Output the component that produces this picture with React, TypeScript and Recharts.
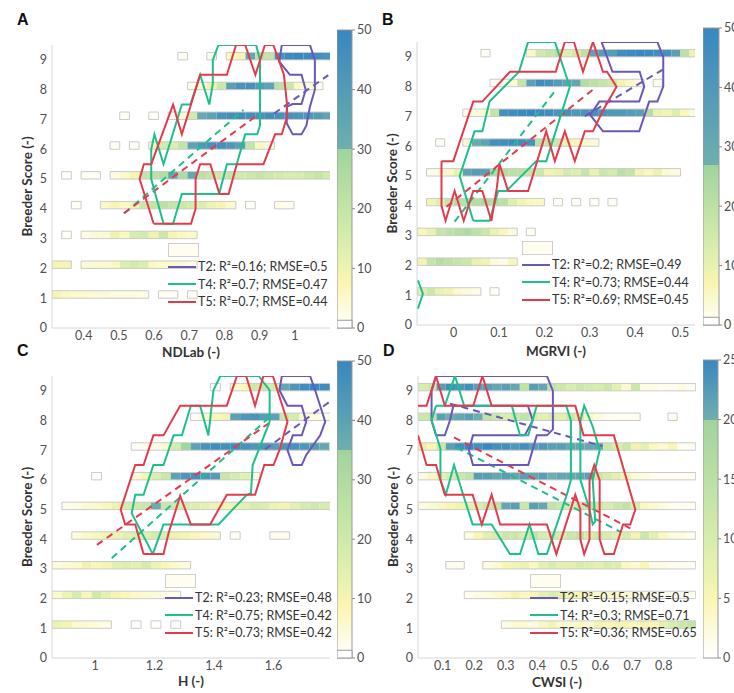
import React from "react";
import {
  ComposedChart,
  XAxis,
  YAxis,
  Scatter,
  ReferenceArea,
  ReferenceLine,
  Legend,
} from "recharts";

const FONT = "Lato, 'Liberation Sans', sans-serif";

type Treat = "T2" | "T4" | "T5";
type Pt = [number, number];

const TREATS: Treat[] = ["T2", "T4", "T5"];
const TREAT_COLORS: Record<Treat, string> = {
  T2: "#6a58b8",
  T4: "#1fbf8c",
  T5: "#e23c4c",
};

const Y_TICKS = [0, 1, 2, 3, 4, 5, 6, 7, 8, 9];
const CELL_H = 0.25;

// ---- panel A: NDLab ----
const A_X_TICKS = [0.4, 0.5, 0.6, 0.7, 0.8, 0.9, 1];
const A_BIN_START = 0.31;
const A_BIN_W = 0.0275;
// rows are scores 1..9, columns are NDLab bins
const A_COUNTS = [
  [8, 6, 5, 5, 4, 4, 3, 3, 3, 2, 0, 1, 1, 0, 1, 0, 0, 0, 0, 0, 0, 0, 0, 0, 0, 0, 0, 0, 0],
  [8, 8, 0, 4, 5, 5, 6, 14, 16, 14, 6, 5, 5, 4, 3, 0, 0, 0, 0, 0, 0, 0, 0, 0, 0, 0, 0, 0, 0],
  [0, 1, 0, 3, 4, 4, 10, 6, 15, 16, 10, 18, 8, 6, 5, 0, 0, 0, 0, 0, 0, 0, 0, 0, 0, 0, 0, 0, 0],
  [0, 0, 1, 0, 0, 6, 8, 6, 10, 18, 20, 22, 20, 18, 16, 14, 10, 8, 5, 0, 1, 0, 0, 2, 2, 0, 0, 0, 0],
  [0, 1, 0, 1, 1, 0, 3, 5, 8, 20, 22, 25, 34, 26, 34, 22, 20, 18, 20, 16, 18, 20, 18, 16, 15, 15, 18, 20, 16],
  [0, 0, 0, 0, 0, 0, 1, 0, 1, 0, 6, 16, 14, 20, 36, 42, 44, 45, 42, 38, 20, 6, 3, 0, 0, 0, 0, 0, 0],
  [0, 0, 0, 0, 0, 0, 0, 1, 0, 0, 1, 0, 1, 4, 16, 33, 36, 44, 46, 47, 45, 44, 46, 45, 44, 43, 42, 40, 36],
  [0, 0, 0, 0, 0, 0, 0, 0, 0, 0, 0, 0, 0, 0, 2, 5, 10, 18, 38, 44, 45, 40, 36, 22, 18, 6, 4, 2, 0],
  [0, 0, 0, 0, 0, 0, 0, 0, 0, 0, 0, 0, 0, 1, 0, 0, 1, 0, 6, 8, 34, 22, 20, 44, 48, 50, 48, 46, 44],
];
const A_T2: Pt[] = [
  [0.963, 9.5], [1.043, 9.5], [1.057, 9.0], [1.057, 8.0], [1.043, 7.43], [1.033, 6.8],
  [1.019, 6.5], [0.994, 6.5], [0.977, 6.87], [0.977, 7.43], [0.994, 7.52], [1.019, 7.52],
  [1.031, 8.0], [1.019, 8.5], [0.986, 8.5], [0.956, 8.94], [0.963, 9.5],
];
const A_T4: Pt[] = [
  [0.627, 3.5], [0.592, 5.0], [0.592, 6.0], [0.601, 6.5], [0.627, 5.5], [0.679, 7.5],
  [0.703, 7.5], [0.731, 8.5], [0.757, 7.5], [0.767, 8.2], [0.767, 9.0], [0.783, 9.5],
  [0.89, 9.5], [0.901, 9.0], [0.901, 6.8], [0.893, 6.5], [0.859, 6.5], [0.835, 5.5],
  [0.807, 5.5], [0.785, 4.5], [0.679, 4.5], [0.654, 3.5], [0.627, 3.5],
];
const A_T5: Pt[] = [
  [0.599, 3.5], [0.559, 5.0], [0.571, 5.5], [0.592, 5.5], [0.654, 7.5], [0.679, 6.5],
  [0.731, 8.5], [0.807, 8.5], [0.833, 9.5], [0.859, 9.5], [0.888, 8.5], [0.915, 9.5],
  [0.939, 9.5], [0.969, 8.5], [0.978, 7.5], [0.978, 7.1], [0.963, 6.5], [0.944, 6.5],
  [0.911, 5.5], [0.835, 5.5], [0.812, 4.5], [0.786, 4.5], [0.76, 5.5], [0.731, 5.5],
  [0.718, 5.0], [0.718, 4.0], [0.705, 3.5], [0.599, 3.5],
];
const A_FITS: Record<Treat, Pt[]> = {
  T2: [[0.941, 7.2], [1.095, 8.49]],
  T4: [[0.516, 3.85], [0.854, 7.32]],
  T5: [[0.514, 3.85], [0.9, 7.2]],
};
const A_LEGEND = ["T2: R²=0.16; RMSE=0.5", "T4: R²=0.7; RMSE=0.47", "T5: R²=0.7; RMSE=0.44"];

// ---- panel B: MGRVI ----
const B_X_TICKS = [0, 0.1, 0.2, 0.3, 0.4, 0.5];
const B_BIN_START = -0.08;
const B_BIN_W = 0.02;
const B_COUNTS = [
  [12, 16, 10, 8, 4, 3, 2, 0, 1, 0, 0, 0, 0, 0, 0, 0, 0, 0, 0, 0, 0, 0, 0, 0, 0, 0, 0, 0, 0, 0, 0],
  [8, 18, 22, 20, 18, 16, 10, 8, 3, 2, 6, 0, 0, 0, 0, 0, 0, 0, 0, 0, 0, 0, 0, 0, 0, 0, 0, 0, 0, 0, 0],
  [6, 10, 18, 20, 22, 24, 20, 16, 10, 6, 3, 0, 1, 0, 0, 0, 0, 0, 0, 0, 0, 0, 0, 0, 0, 0, 0, 0, 0, 0, 0],
  [0, 8, 12, 18, 22, 20, 22, 24, 22, 20, 12, 8, 6, 5, 0, 1, 0, 1, 0, 1, 0, 1, 0, 0, 0, 0, 0, 0, 0, 0, 0],
  [0, 2, 3, 5, 10, 34, 38, 36, 24, 22, 20, 20, 18, 16, 8, 10, 14, 12, 18, 10, 16, 14, 20, 18, 8, 6, 10, 4, 3, 0, 0],
  [0, 0, 1, 0, 0, 4, 30, 34, 44, 46, 48, 46, 44, 20, 18, 16, 10, 6, 4, 3, 0, 0, 0, 0, 0, 0, 0, 0, 0, 0, 0],
  [0, 0, 0, 0, 0, 2, 3, 4, 18, 44, 46, 48, 50, 48, 46, 42, 44, 40, 42, 44, 42, 40, 40, 38, 36, 22, 10, 8, 12, 6, 3],
  [0, 0, 0, 0, 0, 0, 0, 0, 1, 2, 4, 18, 35, 46, 45, 38, 34, 32, 22, 20, 18, 15, 8, 5, 3, 0, 1, 0, 0, 0, 0],
  [0, 0, 0, 0, 0, 0, 0, 1, 0, 0, 0, 0, 5, 15, 18, 20, 12, 15, 20, 34, 38, 38, 46, 48, 50, 48, 46, 44, 36, 20, 10],
];
const B_T2: Pt[] = [
  [0.326, 9.5], [0.449, 9.5], [0.462, 9.0], [0.462, 8.0], [0.449, 7.5], [0.431, 7.5],
  [0.409, 6.5], [0.329, 6.5], [0.301, 7.05], [0.321, 7.5], [0.409, 7.5], [0.42, 8.0],
  [0.41, 8.5], [0.35, 8.5], [0.326, 9.5],
];
const B_T4: Pt[] = [
  [0.043, 3.5], [0.079, 3.5], [0.098, 4.5], [0.116, 4.5], [0.182, 5.5], [0.204, 5.5],
  [0.256, 8.0], [0.223, 9.5], [0.164, 9.5], [0.144, 8.5], [0.079, 7.5], [0.063, 6.5],
  [0.046, 6.5], [0.013, 5.0], [0.043, 3.5],
];
const B_T4_EDGE: Pt[] = [[-0.079, 1.5], [-0.068, 1.05], [-0.079, 0.55]];
const B_T5: Pt[] = [
  [-0.027, 5.5], [-0.001, 5.5], [0.043, 7.5], [0.063, 7.5], [0.124, 8.5], [0.225, 8.5],
  [0.245, 9.5], [0.265, 9.5], [0.285, 8.5], [0.307, 9.5], [0.329, 8.5], [0.338, 8.5],
  [0.359, 8.0], [0.329, 7.2], [0.307, 6.5], [0.289, 6.5], [0.267, 5.5], [0.245, 6.5],
  [0.223, 5.5], [0.204, 6.5], [0.164, 4.5], [0.12, 4.5], [0.101, 5.4], [0.095, 4.6],
  [0.083, 3.5], [0.063, 4.5], [0.043, 4.5], [0.022, 3.5], [0.002, 4.5], [-0.018, 3.5],
  [-0.027, 4.0], [-0.027, 5.5],
];
const B_FITS: Record<Treat, Pt[]> = {
  T2: [[0.289, 7.01], [0.465, 8.61]],
  T4: [[0.002, 3.47], [0.226, 7.91]],
  T5: [[-0.016, 3.97], [0.315, 8.0]],
};
const B_LEGEND = ["T2: R²=0.2; RMSE=0.49", "T4: R²=0.73; RMSE=0.44", "T5: R²=0.69; RMSE=0.45"];

// ---- panel C: H ----
const C_X_TICKS = [1, 1.2, 1.4, 1.6];
const C_BIN_START = 0.855;
const C_BIN_W = 0.0333;
const C_COUNTS = [
  [12, 10, 6, 5, 4, 3, 0, 0, 1, 0, 1, 0, 1, 0, 0, 0, 0, 0, 0, 0, 0, 0, 0, 0, 0, 0, 0, 0, 0],
  [6, 12, 18, 8, 20, 14, 10, 8, 6, 5, 4, 3, 3, 0, 0, 0, 0, 0, 0, 0, 0, 0, 0, 0, 0, 0, 0, 0, 0],
  [4, 5, 6, 12, 8, 10, 15, 16, 14, 18, 12, 8, 6, 4, 0, 0, 0, 0, 0, 0, 0, 0, 0, 0, 0, 0, 0, 0, 0],
  [0, 0, 4, 6, 8, 10, 12, 14, 16, 15, 18, 16, 12, 10, 8, 6, 5, 0, 1, 0, 0, 0, 2, 2, 0, 0, 0, 0, 0],
  [0, 2, 3, 5, 6, 8, 12, 18, 20, 22, 36, 22, 20, 18, 16, 14, 12, 10, 12, 14, 18, 16, 12, 10, 14, 18, 20, 18, 16],
  [0, 0, 0, 0, 1, 0, 0, 0, 5, 10, 16, 22, 40, 44, 46, 44, 42, 22, 18, 14, 3, 0, 0, 0, 0, 0, 0, 0, 0],
  [0, 0, 0, 0, 0, 0, 0, 0, 1, 2, 3, 5, 18, 34, 40, 46, 48, 47, 48, 46, 44, 44, 42, 45, 46, 44, 42, 38, 20],
  [0, 0, 0, 0, 0, 0, 0, 0, 0, 0, 0, 0, 0, 0, 1, 6, 8, 10, 40, 44, 45, 42, 40, 22, 18, 6, 4, 3, 2],
  [0, 0, 0, 0, 0, 0, 0, 0, 0, 0, 0, 0, 0, 0, 0, 0, 1, 0, 6, 8, 20, 22, 18, 38, 44, 48, 50, 48, 46],
];
const C_T2: Pt[] = [
  [1.628, 9.5], [1.723, 9.5], [1.74, 9.02], [1.774, 7.96], [1.757, 7.5], [1.71, 6.84],
  [1.695, 6.5], [1.665, 6.5], [1.647, 7.0], [1.665, 7.5], [1.695, 7.5], [1.71, 7.96],
  [1.695, 8.5], [1.647, 8.5], [1.62, 9.02], [1.628, 9.5],
];
const C_T4: Pt[] = [
  [1.194, 3.5], [1.123, 4.88], [1.135, 5.5], [1.163, 5.5], [1.196, 6.5], [1.23, 6.5],
  [1.264, 7.5], [1.292, 7.5], [1.322, 8.5], [1.353, 8.5], [1.381, 7.5], [1.398, 9.02],
  [1.421, 9.5], [1.55, 9.5], [1.587, 9.02], [1.587, 7.96], [1.53, 6.5], [1.524, 5.55],
  [1.51, 5.5], [1.415, 4.5], [1.23, 4.5], [1.194, 3.5],
];
const C_T5: Pt[] = [
  [1.163, 3.5], [1.135, 4.5], [1.101, 4.5], [1.086, 5.0], [1.135, 6.5], [1.163, 6.5],
  [1.196, 7.5], [1.23, 7.5], [1.286, 8.5], [1.443, 8.5], [1.477, 9.5], [1.508, 9.5],
  [1.538, 8.5], [1.566, 9.5], [1.598, 9.5], [1.62, 8.8], [1.647, 7.96], [1.62, 7.0],
  [1.6, 6.5], [1.569, 6.5], [1.538, 5.5], [1.443, 5.5], [1.387, 4.5], [1.322, 4.5],
  [1.286, 5.46], [1.247, 4.2], [1.23, 3.5], [1.163, 3.5],
];
const C_FITS: Record<Treat, Pt[]> = {
  T2: [[1.572, 7.03], [1.788, 8.63]],
  T4: [[1.056, 3.36], [1.58, 8.05]],
  T5: [[1.006, 3.81], [1.587, 7.93]],
};
const C_LEGEND = ["T2: R²=0.23; RMSE=0.48", "T4: R²=0.75; RMSE=0.42", "T5: R²=0.73; RMSE=0.42"];

// ---- panel D: CWSI ----
const D_X_TICKS = [0.1, 0.2, 0.3, 0.4, 0.5, 0.6, 0.7, 0.8];
const D_BIN_START = 0.022;
const D_BIN_W = 0.0293;
const D_COUNTS = [
  [0, 0, 0, 0, 0, 0, 0, 0, 0, 2, 3, 3, 2, 4, 6, 3, 3, 4, 3, 6, 5, 6, 5, 4, 6, 5, 8, 10, 12, 14],
  [0, 0, 0, 0, 0, 1, 2, 2, 3, 4, 6, 4, 5, 8, 10, 8, 6, 5, 4, 3, 3, 4, 3, 2, 2, 1, 1, 1, 1, 1],
  [0, 0, 0, 1, 1, 0, 0, 2, 3, 5, 6, 7, 4, 8, 10, 8, 8, 10, 9, 8, 10, 9, 4, 3, 5, 2, 2, 1, 1, 1],
  [0, 0, 0, 0, 0, 2, 5, 8, 10, 12, 12, 10, 14, 10, 12, 10, 12, 14, 10, 12, 10, 8, 10, 6, 12, 8, 4, 2, 2, 1],
  [2, 3, 4, 5, 6, 8, 10, 12, 14, 21, 22, 12, 22, 21, 14, 12, 10, 12, 14, 12, 10, 12, 14, 10, 4, 3, 2, 1, 1, 1],
  [2, 4, 8, 10, 12, 14, 22, 22, 21, 22, 21, 22, 21, 22, 20, 21, 21, 21, 22, 12, 10, 8, 5, 3, 2, 1, 1, 1, 1, 1],
  [8, 5, 12, 22, 24, 25, 24, 25, 24, 24, 23, 24, 22, 23, 22, 22, 21, 21, 21, 21, 12, 10, 12, 6, 8, 4, 3, 5, 1, 1],
  [12, 14, 22, 20, 21, 22, 20, 14, 12, 10, 12, 14, 10, 8, 10, 8, 12, 10, 4, 2, 1, 1, 1, 1, 0, 0, 0, 1, 0, 0],
  [10, 12, 22, 24, 23, 24, 22, 22, 21, 22, 21, 14, 22, 21, 14, 12, 10, 12, 11, 10, 12, 8, 3, 12, 2, 2, 1, 1, 2, 1],
];
const D_T2: Pt[] = [
  [0.079, 9.5], [0.43, 9.5], [0.449, 9.0], [0.449, 7.7], [0.43, 7.5], [0.398, 7.5],
  [0.371, 6.5], [0.196, 6.5], [0.183, 7.0], [0.196, 7.5], [0.36, 7.5], [0.385, 8.0],
  [0.37, 8.5], [0.134, 8.5], [0.123, 8.0], [0.107, 7.5], [0.079, 7.5], [0.065, 8.0],
  [0.065, 9.0], [0.079, 9.5],
];
const D_T4: Pt[] = [
  [0.079, 8.5], [0.107, 8.5], [0.139, 9.5], [0.168, 8.5], [0.319, 8.5], [0.345, 7.5],
  [0.371, 7.5], [0.398, 8.5], [0.491, 8.5], [0.506, 8.0], [0.506, 6.0], [0.493, 5.5],
  [0.43, 3.5], [0.403, 3.5], [0.375, 4.5], [0.345, 3.5], [0.313, 3.5], [0.255, 4.5],
  [0.195, 4.5], [0.165, 5.5], [0.136, 6.5], [0.11, 5.5], [0.093, 6.0], [0.093, 7.05],
  [0.065, 8.0], [0.079, 8.5],
];
const D_T4_SPIKE: Pt[] = [
  [0.536, 8.0], [0.548, 8.5], [0.575, 7.8], [0.597, 7.0], [0.575, 6.0], [0.583, 4.6],
  [0.575, 4.5], [0.565, 5.0], [0.536, 6.0], [0.536, 8.0],
];
const D_T5: Pt[] = [
  [0.022, 8.5], [0.049, 8.5], [0.079, 9.5], [0.107, 8.5], [0.197, 8.5], [0.226, 9.5],
  [0.255, 8.5], [0.52, 8.5], [0.546, 7.5], [0.642, 7.5], [0.71, 5.0], [0.694, 4.5],
  [0.671, 4.5], [0.642, 3.5], [0.612, 3.5], [0.597, 4.0], [0.597, 6.0], [0.58, 6.5],
  [0.565, 6.0], [0.565, 4.0], [0.548, 3.5], [0.536, 4.0], [0.536, 5.0], [0.52, 5.5],
  [0.46, 3.5], [0.43, 4.5], [0.282, 4.5], [0.255, 5.5], [0.224, 4.5], [0.195, 5.5],
  [0.107, 5.5], [0.079, 6.5], [0.049, 6.5], [0.022, 7.5],
];
const D_FITS: Record<Treat, Pt[]> = {
  T2: [[0.123, 8.57], [0.605, 7.14]],
  T4: [[0.144, 7.09], [0.663, 4.25]],
  T5: [[0.136, 7.43], [0.694, 4.37]],
};
const D_LEGEND = ["T2: R²=0.15; RMSE=0.5", "T4: R²=0.3; RMSE=0.71", "T5: R²=0.36; RMSE=0.65"];

// ---- colour map: white -> yellow -> green below the break, teal -> blue above ----
const LOW_STOPS: [number, number[]][] = [
  [0, [255, 255, 255]],
  [0.25, [250, 246, 178]],
  [0.5, [214, 237, 172]],
  [1, [160, 212, 156]],
];
const HIGH_STOPS: [number, number[]][] = [
  [0, [110, 175, 174]],
  [1, [56, 135, 192]],
];

const lerpStops = (stops: [number, number[]][], t: number) => {
  const tt = Math.max(0, Math.min(1, t));
  for (let i = 1; i < stops.length; i++) {
    const [t0, c0] = stops[i - 1];
    const [t1, c1] = stops[i];
    if (tt <= t1) {
      const f = (tt - t0) / (t1 - t0);
      const c = c0.map((v, j) => Math.round(v + (c1[j] - v) * f));
      return `rgb(${c[0]},${c[1]},${c[2]})`;
    }
  }
  const c = stops[stops.length - 1][1];
  return `rgb(${c[0]},${c[1]},${c[2]})`;
};

const cellColor = (v: number, max: number, brk: number) =>
  v < brk ? lerpStops(LOW_STOPS, v / brk) : lerpStops(HIGH_STOPS, (v - brk) / (max - brk));

interface Contour {
  t: Treat;
  pts: Pt[];
}

interface PanelProps {
  letter: string;
  left: number;
  top: number;
  marginTop: number;
  marginBottom: number;
  xDomain: [number, number];
  xTicks: number[];
  xLabel: string;
  xLabelOffset: number;
  binStart: number;
  binW: number;
  counts: number[][];
  cmax: number;
  cbreak: number;
  contours: Contour[];
  fits: Record<Treat, Pt[]>;
  legend: string[];
  legendLeft: number;
  legendTop: number;
}

const tickStyle = { fontSize: 12.5, fill: "#505050", fontFamily: FONT };
const titleStyle = { fontSize: 13.5, fontWeight: 700, fill: "#333", fontFamily: FONT };

const Panel: React.FC<PanelProps> = (p) => {
  const cells: { key: string; x1: number; x2: number; y: number; c: number }[] = [];
  const runs: { key: string; x1: number; x2: number; y: number }[] = [];
  p.counts.forEach((row, r) => {
    const score = r + 1;
    let runStart = -1;
    row.forEach((c, k) => {
      if (c > 0) {
        cells.push({ key: `c${r}-${k}`, x1: p.binStart + k * p.binW, x2: p.binStart + (k + 1) * p.binW, y: score, c });
        if (runStart < 0) runStart = k;
      }
      const last = k === row.length - 1;
      if (runStart >= 0 && (c === 0 || last)) {
        const end = c > 0 ? k + 1 : k;
        runs.push({ key: `r${r}-${runStart}`, x1: p.binStart + runStart * p.binW, x2: p.binStart + end * p.binW, y: score });
        runStart = -1;
      }
    });
  });

  return (
    <div style={{ position: "absolute", left: p.left, top: p.top }}>
      <div
        style={{
          position: "absolute",
          left: 17,
          top: 11,
          fontFamily: "'Liberation Sans', Arial, sans-serif",
          fontWeight: 700,
          fontSize: 16,
          color: "#111",
        }}
      >
        {p.letter}
      </div>
      <ComposedChart
        width={370}
        height={365}
        margin={{ top: p.marginTop, right: 40, bottom: p.marginBottom, left: 22 }}
      >
        <XAxis
          type="number"
          dataKey="x"
          domain={p.xDomain}
          ticks={p.xTicks}
          allowDataOverflow
          height={30}
          tickSize={0}
          tickMargin={3}
          tick={tickStyle}
          axisLine={{ stroke: "#d6d6d6" }}
          label={{ value: p.xLabel, position: "insideBottom", offset: p.xLabelOffset, style: titleStyle }}
        />
        <YAxis
          type="number"
          dataKey="y"
          domain={[0, 9.5]}
          ticks={Y_TICKS}
          allowDataOverflow
          width={30}
          tickSize={0}
          tickMargin={5}
          tick={tickStyle}
          axisLine={{ stroke: "#d6d6d6" }}
          label={{
            value: "Breeder Score (-)",
            angle: -90,
            position: "insideLeft",
            offset: 5,
            style: { ...titleStyle, textAnchor: "middle" },
          }}
        />
        {cells.map((c) => (
          <ReferenceArea
            key={c.key}
            x1={c.x1}
            x2={c.x2}
            y1={c.y}
            y2={c.y + CELL_H}
            fill={cellColor(c.c, p.cmax, p.cbreak)}
            fillOpacity={1}
            stroke="none"
            ifOverflow="hidden"
          />
        ))}
        {runs.map((r) => (
          <ReferenceArea
            key={r.key}
            x1={r.x1}
            x2={r.x2}
            y1={r.y}
            y2={r.y + CELL_H}
            fill="none"
            stroke="#cbcbcb"
            strokeWidth={1}
            ifOverflow="hidden"
          />
        ))}
        {p.contours.map((c, i) => (
          <Scatter
            key={`k${i}`}
            data={c.pts.map(([x, y]) => ({ x, y }))}
            line={{ stroke: TREAT_COLORS[c.t], strokeWidth: 2 }}
            shape={() => <g />}
            isAnimationActive={false}
          />
        ))}
        {TREATS.map((t) => (
          <ReferenceLine
            key={`f${t}`}
            segment={p.fits[t].map(([x, y]) => ({ x, y }))}
            stroke={TREAT_COLORS[t]}
            strokeWidth={2}
            strokeDasharray="7 5"
            ifOverflow="hidden"
          />
        ))}
        <Legend
          layout="vertical"
          align="center"
          verticalAlign="middle"
          wrapperStyle={{ left: p.legendLeft, top: p.legendTop, width: "auto", height: "auto" }}
          content={() => (
            <div style={{ position: "relative", fontFamily: FONT, fontSize: 12.5, color: "#333" }}>
              <div
                style={{
                  position: "absolute",
                  left: 0,
                  top: -15,
                  width: 29,
                  height: 12,
                  border: "1px solid #cfcfcf",
                  background: "#fffdf0",
                }}
              />
              {p.legend.map((txt, i) => (
                <div
                  key={txt}
                  style={{ display: "flex", alignItems: "center", height: 17.5, whiteSpace: "nowrap" }}
                >
                  <svg width={28} height={4}>
                    <line x1={0} y1={2} x2={28} y2={2} stroke={TREAT_COLORS[TREATS[i]]} strokeWidth={2} />
                  </svg>
                  <span style={{ marginLeft: 2 }}>{txt}</span>
                </div>
              ))}
            </div>
          )}
        />
      </ComposedChart>
    </div>
  );
};

interface BarProps {
  id: string;
  left: number;
  top: number;
  barWidth: number;
  marginTop: number;
  marginBottom: number;
  cmax: number;
  cbreak: number;
  ticks: number[];
  zeroBox: boolean;
}

const ColorBar: React.FC<BarProps> = (b) => {
  const f = b.cbreak / b.cmax;
  const stops: [number, string][] = [
    ...LOW_STOPS.map(([t]) => [t * f, lerpStops(LOW_STOPS, t)] as [number, string]),
    ...HIGH_STOPS.map(([t]) => [f + t * (1 - f), lerpStops(HIGH_STOPS, t)] as [number, string]),
  ];
  return (
    <div style={{ position: "absolute", left: b.left, top: b.top }}>
      <ComposedChart
        width={b.barWidth + 30}
        height={365}
        margin={{ top: b.marginTop, right: 0, bottom: b.marginBottom, left: 0 }}
      >
        <defs>
          <linearGradient id={b.id} x1="0" y1="1" x2="0" y2="0">
            {stops.map(([o, c], i) => (
              <stop key={i} offset={o} stopColor={c} />
            ))}
          </linearGradient>
        </defs>
        <XAxis type="number" dataKey="x" domain={[0, 1]} hide allowDataOverflow />
        <YAxis
          type="number"
          orientation="right"
          domain={[0, b.cmax]}
          ticks={b.ticks}
          allowDataOverflow
          width={30}
          tickSize={3}
          tickMargin={2}
          tick={tickStyle}
          tickLine={{ stroke: "#888" }}
          axisLine={false}
        />
        <ReferenceArea
          x1={0}
          x2={1}
          y1={0}
          y2={b.cmax}
          fill={`url(#${b.id})`}
          fillOpacity={1}
          stroke="#9a9a9a"
          strokeWidth={1}
        />
        {b.zeroBox && (
          <ReferenceArea x1={0} x2={1} y1={0} y2={b.cmax * 0.026} fill="#fff" fillOpacity={1} stroke="#9a9a9a" />
        )}
      </ComposedChart>
    </div>
  );
};

const BAR_TICKS_50 = [0, 10, 20, 30, 40, 50];
const BAR_TICKS_25 = [0, 5, 10, 15, 20, 25];

export default function App() {
  return (
    <div
      style={{
        position: "absolute",
        left: 0,
        top: 0,
        width: 734,
        height: 693,
        background: "#fff",
        overflow: "hidden",
        fontFamily: FONT,
      }}
    >
      <Panel
        letter="A"
        left={0}
        top={0}
        marginTop={45}
        marginBottom={7}
        xDomain={[0.31, 1.1]}
        xTicks={A_X_TICKS}
        xLabel="NDLab (-)"
        xLabelOffset={1}
        binStart={A_BIN_START}
        binW={A_BIN_W}
        counts={A_COUNTS}
        cmax={50}
        cbreak={30}
        contours={[
          { t: "T2", pts: A_T2 },
          { t: "T4", pts: A_T4 },
          { t: "T5", pts: A_T5 },
        ]}
        fits={A_FITS}
        legend={A_LEGEND}
        legendLeft={168}
        legendTop={258}
      />
      <Panel
        letter="B"
        left={365}
        top={0}
        marginTop={42}
        marginBottom={10}
        xDomain={[-0.081, 0.532]}
        xTicks={B_X_TICKS}
        xLabel="MGRVI (-)"
        xLabelOffset={-1}
        binStart={B_BIN_START}
        binW={B_BIN_W}
        counts={B_COUNTS}
        cmax={50}
        cbreak={27}
        contours={[
          { t: "T2", pts: B_T2 },
          { t: "T4", pts: B_T4 },
          { t: "T4", pts: B_T4_EDGE },
          { t: "T5", pts: B_T5 },
        ]}
        fits={B_FITS}
        legend={B_LEGEND}
        legendLeft={157}
        legendTop={256}
      />
      <Panel
        letter="C"
        left={0}
        top={331}
        marginTop={45}
        marginBottom={8}
        xDomain={[0.855, 1.79]}
        xTicks={C_X_TICKS}
        xLabel="H (-)"
        xLabelOffset={2}
        binStart={C_BIN_START}
        binW={C_BIN_W}
        counts={C_COUNTS}
        cmax={50}
        cbreak={35}
        contours={[
          { t: "T2", pts: C_T2 },
          { t: "T4", pts: C_T4 },
          { t: "T5", pts: C_T5 },
        ]}
        fits={C_FITS}
        legend={C_LEGEND}
        legendLeft={165}
        legendTop={258}
      />
      <Panel
        letter="D"
        left={366}
        top={331}
        marginTop={45}
        marginBottom={8}
        xDomain={[0.022, 0.902]}
        xTicks={D_X_TICKS}
        xLabel="CWSI (-)"
        xLabelOffset={1}
        binStart={D_BIN_START}
        binW={D_BIN_W}
        counts={D_COUNTS}
        cmax={25}
        cbreak={20}
        contours={[
          { t: "T2", pts: D_T2 },
          { t: "T4", pts: D_T4 },
          { t: "T4", pts: D_T4_SPIKE },
          { t: "T5", pts: D_T5 },
        ]}
        fits={D_FITS}
        legend={D_LEGEND}
        legendLeft={164}
        legendTop={258}
      />
      <ColorBar id="cbA" left={337} top={0} barWidth={15} marginTop={30} marginBottom={37} cmax={50} cbreak={30} ticks={BAR_TICKS_50} zeroBox />
      <ColorBar id="cbB" left={703} top={0} barWidth={16} marginTop={28} marginBottom={40} cmax={50} cbreak={27} ticks={BAR_TICKS_50} zeroBox />
      <ColorBar id="cbC" left={337} top={331} barWidth={15} marginTop={30} marginBottom={38} cmax={50} cbreak={35} ticks={BAR_TICKS_50} zeroBox />
      <ColorBar id="cbD" left={703} top={331} barWidth={15} marginTop={29} marginBottom={38} cmax={25} cbreak={20} ticks={BAR_TICKS_25} zeroBox={false} />
    </div>
  );
}
